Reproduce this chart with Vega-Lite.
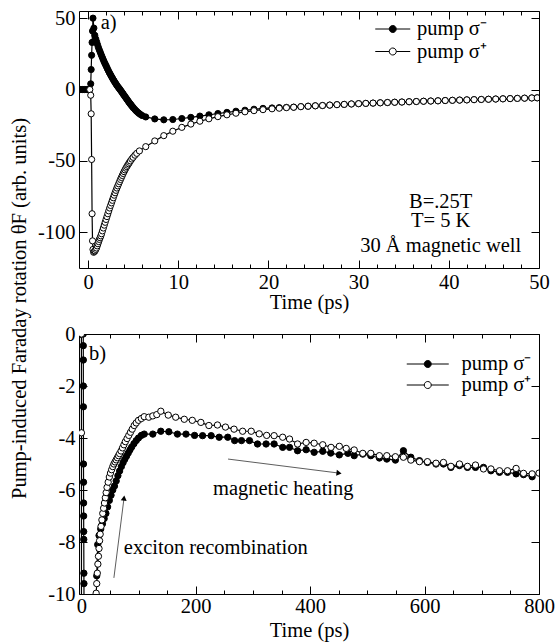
{
  "$schema": "https://vega.github.io/schema/vega-lite/v6.json",
  "background": "white",
  "padding": {"left": 8, "top": 7, "right": 0, "bottom": 0},
  "config": {
    "font": "Liberation Serif",
    "view": {"stroke": "black", "strokeWidth": 1},
    "axis": {
      "grid": false, "domain": false,
      "labelFont": "Liberation Serif", "labelFontSize": 20.5, "labelColor": "black",
      "titleFont": "Liberation Serif", "titleFontSize": 20.5, "titleFontWeight": "normal", "titleColor": "black",
      "tickColor": "black", "tickWidth": 1, "labelOverlap": false, "labelFlush": false
    },
    "text": {"font": "Liberation Serif", "fontSize": 20.5, "color": "black"}
  },
  "datasets": {
    "top": [
      {"series": "pump σ⁻", "t": -1, "v": 0}, {"series": "pump σ⁻", "t": -0.8, "v": 0}, {"series": "pump σ⁻", "t": -0.6, "v": 0},
      {"series": "pump σ⁻", "t": -0.4, "v": 0}, {"series": "pump σ⁻", "t": -0.2, "v": 0}, {"series": "pump σ⁻", "t": 0, "v": 0},
      {"series": "pump σ⁻", "t": 0.15, "v": 0}, {"series": "pump σ⁻", "t": 0.3, "v": 4}, {"series": "pump σ⁻", "t": 0.35, "v": 14},
      {"series": "pump σ⁻", "t": 0.4, "v": 24}, {"series": "pump σ⁻", "t": 0.45, "v": 33}, {"series": "pump σ⁻", "t": 0.5, "v": 41},
      {"series": "pump σ⁻", "t": 0.55, "v": 50}, {"series": "pump σ⁻", "t": 0.65, "v": 43}, {"series": "pump σ⁻", "t": 0.75, "v": 38},
      {"series": "pump σ⁻", "t": 0.85, "v": 35.5}, {"series": "pump σ⁻", "t": 0.95, "v": 33.5}, {"series": "pump σ⁻", "t": 1.05, "v": 31.5},
      {"series": "pump σ⁻", "t": 1.15, "v": 29.5}, {"series": "pump σ⁻", "t": 1.25, "v": 27.8}, {"series": "pump σ⁻", "t": 1.35, "v": 26.2},
      {"series": "pump σ⁻", "t": 1.45, "v": 24.6}, {"series": "pump σ⁻", "t": 1.55, "v": 23}, {"series": "pump σ⁻", "t": 1.65, "v": 21.5},
      {"series": "pump σ⁻", "t": 1.75, "v": 20}, {"series": "pump σ⁻", "t": 1.85, "v": 18.6}, {"series": "pump σ⁻", "t": 1.95, "v": 17.3},
      {"series": "pump σ⁻", "t": 2.05, "v": 16}, {"series": "pump σ⁻", "t": 2.15, "v": 14.6}, {"series": "pump σ⁻", "t": 2.25, "v": 13.3},
      {"series": "pump σ⁻", "t": 2.35, "v": 12}, {"series": "pump σ⁻", "t": 2.45, "v": 10.9}, {"series": "pump σ⁻", "t": 2.55, "v": 9.7},
      {"series": "pump σ⁻", "t": 2.65, "v": 8.6}, {"series": "pump σ⁻", "t": 2.75, "v": 7.5}, {"series": "pump σ⁻", "t": 2.85, "v": 6.4},
      {"series": "pump σ⁻", "t": 2.95, "v": 5.4}, {"series": "pump σ⁻", "t": 3.05, "v": 4.4}, {"series": "pump σ⁻", "t": 3.15, "v": 3.4},
      {"series": "pump σ⁻", "t": 3.25, "v": 2.5}, {"series": "pump σ⁻", "t": 3.35, "v": 1.6}, {"series": "pump σ⁻", "t": 3.45, "v": 0.8},
      {"series": "pump σ⁻", "t": 3.55, "v": 0}, {"series": "pump σ⁻", "t": 3.65, "v": -0.9}, {"series": "pump σ⁻", "t": 3.75, "v": -1.8},
      {"series": "pump σ⁻", "t": 3.85, "v": -2.7}, {"series": "pump σ⁻", "t": 3.95, "v": -3.6}, {"series": "pump σ⁻", "t": 4.05, "v": -4.5},
      {"series": "pump σ⁻", "t": 4.15, "v": -5.4}, {"series": "pump σ⁻", "t": 4.25, "v": -6.3}, {"series": "pump σ⁻", "t": 4.35, "v": -7.2},
      {"series": "pump σ⁻", "t": 4.45, "v": -8.1}, {"series": "pump σ⁻", "t": 4.55, "v": -9}, {"series": "pump σ⁻", "t": 4.65, "v": -9.8},
      {"series": "pump σ⁻", "t": 4.75, "v": -10.6}, {"series": "pump σ⁻", "t": 4.85, "v": -11.4}, {"series": "pump σ⁻", "t": 4.95, "v": -12.2},
      {"series": "pump σ⁻", "t": 5.05, "v": -13}, {"series": "pump σ⁻", "t": 5.2, "v": -14}, {"series": "pump σ⁻", "t": 5.35, "v": -15},
      {"series": "pump σ⁻", "t": 5.5, "v": -15.9}, {"series": "pump σ⁻", "t": 5.65, "v": -16.7}, {"series": "pump σ⁻", "t": 5.8, "v": -17.4},
      {"series": "pump σ⁻", "t": 6.0, "v": -18.2}, {"series": "pump σ⁻", "t": 6.4, "v": -19.2}, {"series": "pump σ⁻", "t": 7.4, "v": -20.6},
      {"series": "pump σ⁻", "t": 8.4, "v": -21.2}, {"series": "pump σ⁻", "t": 9.4, "v": -21.0}, {"series": "pump σ⁻", "t": 10.4, "v": -20.3},
      {"series": "pump σ⁻", "t": 11.4, "v": -19.5}, {"series": "pump σ⁻", "t": 12.4, "v": -18.6}, {"series": "pump σ⁻", "t": 13.4, "v": -17.7},
      {"series": "pump σ⁻", "t": 14.4, "v": -16.8}, {"series": "pump σ⁻", "t": 15.4, "v": -16.0}, {"series": "pump σ⁻", "t": 16.4, "v": -15.2},
      {"series": "pump σ⁻", "t": 17.4, "v": -14.5}, {"series": "pump σ⁻", "t": 18.4, "v": -13.8}, {"series": "pump σ⁻", "t": 19.4, "v": -13.2},
      {"series": "pump σ⁻", "t": 20.4, "v": -12.9}, {"series": "pump σ⁻", "t": 21.2, "v": -12.7}, {"series": "pump σ⁻", "t": 22.0, "v": -12.5},
      {"series": "pump σ⁻", "t": 22.8, "v": -12.35}, {"series": "pump σ⁻", "t": 23.6, "v": -12.0}, {"series": "pump σ⁻", "t": 24.4, "v": -11.7},
      {"series": "pump σ⁻", "t": 25.2, "v": -11.4}, {"series": "pump σ⁻", "t": 26.0, "v": -11.2}, {"series": "pump σ⁻", "t": 26.8, "v": -10.9},
      {"series": "pump σ⁻", "t": 27.6, "v": -10.6}, {"series": "pump σ⁻", "t": 28.4, "v": -10.4}, {"series": "pump σ⁻", "t": 29.2, "v": -10.1},
      {"series": "pump σ⁻", "t": 30.0, "v": -9.9}, {"series": "pump σ⁻", "t": 30.8, "v": -9.7}, {"series": "pump σ⁻", "t": 31.6, "v": -9.5},
      {"series": "pump σ⁻", "t": 32.4, "v": -9.3}, {"series": "pump σ⁻", "t": 33.2, "v": -9.1}, {"series": "pump σ⁻", "t": 34.0, "v": -8.9},
      {"series": "pump σ⁻", "t": 34.8, "v": -8.75}, {"series": "pump σ⁻", "t": 35.6, "v": -8.55}, {"series": "pump σ⁻", "t": 36.4, "v": -8.4},
      {"series": "pump σ⁻", "t": 37.2, "v": -8.2}, {"series": "pump σ⁻", "t": 38.0, "v": -8.05}, {"series": "pump σ⁻", "t": 38.8, "v": -7.9},
      {"series": "pump σ⁻", "t": 39.6, "v": -7.7}, {"series": "pump σ⁻", "t": 40.4, "v": -7.55}, {"series": "pump σ⁻", "t": 41.2, "v": -7.4},
      {"series": "pump σ⁻", "t": 42.0, "v": -7.25}, {"series": "pump σ⁻", "t": 42.8, "v": -7.1}, {"series": "pump σ⁻", "t": 43.6, "v": -6.95},
      {"series": "pump σ⁻", "t": 44.4, "v": -6.8}, {"series": "pump σ⁻", "t": 45.2, "v": -6.65}, {"series": "pump σ⁻", "t": 46.0, "v": -6.5},
      {"series": "pump σ⁻", "t": 46.8, "v": -6.35}, {"series": "pump σ⁻", "t": 47.6, "v": -6.2}, {"series": "pump σ⁻", "t": 48.4, "v": -6.05},
      {"series": "pump σ⁻", "t": 49.2, "v": -5.9}, {"series": "pump σ⁻", "t": 49.8, "v": -5.8},

      {"series": "pump σ⁺", "t": 0.2, "v": 0}, {"series": "pump σ⁺", "t": 0.3, "v": -4}, {"series": "pump σ⁺", "t": 0.35, "v": -17},
      {"series": "pump σ⁺", "t": 0.4, "v": -49}, {"series": "pump σ⁺", "t": 0.45, "v": -87}, {"series": "pump σ⁺", "t": 0.5, "v": -106},
      {"series": "pump σ⁺", "t": 0.55, "v": -112}, {"series": "pump σ⁺", "t": 0.62, "v": -114}, {"series": "pump σ⁺", "t": 0.7, "v": -113.5},
      {"series": "pump σ⁺", "t": 0.78, "v": -113}, {"series": "pump σ⁺", "t": 0.86, "v": -112}, {"series": "pump σ⁺", "t": 0.94, "v": -111},
      {"series": "pump σ⁺", "t": 1.02, "v": -109.5}, {"series": "pump σ⁺", "t": 1.1, "v": -108}, {"series": "pump σ⁺", "t": 1.18, "v": -106.5},
      {"series": "pump σ⁺", "t": 1.26, "v": -105}, {"series": "pump σ⁺", "t": 1.34, "v": -103.8}, {"series": "pump σ⁺", "t": 1.42, "v": -102.5},
      {"series": "pump σ⁺", "t": 1.5, "v": -101}, {"series": "pump σ⁺", "t": 1.6, "v": -99}, {"series": "pump σ⁺", "t": 1.7, "v": -97},
      {"series": "pump σ⁺", "t": 1.8, "v": -95}, {"series": "pump σ⁺", "t": 1.9, "v": -93}, {"series": "pump σ⁺", "t": 2.0, "v": -91},
      {"series": "pump σ⁺", "t": 2.1, "v": -89}, {"series": "pump σ⁺", "t": 2.2, "v": -87}, {"series": "pump σ⁺", "t": 2.3, "v": -85},
      {"series": "pump σ⁺", "t": 2.4, "v": -83}, {"series": "pump σ⁺", "t": 2.5, "v": -81.2}, {"series": "pump σ⁺", "t": 2.6, "v": -79.4},
      {"series": "pump σ⁺", "t": 2.7, "v": -77.6}, {"series": "pump σ⁺", "t": 2.8, "v": -75.8}, {"series": "pump σ⁺", "t": 2.9, "v": -74},
      {"series": "pump σ⁺", "t": 3.0, "v": -72.3}, {"series": "pump σ⁺", "t": 3.1, "v": -70.6}, {"series": "pump σ⁺", "t": 3.2, "v": -69},
      {"series": "pump σ⁺", "t": 3.3, "v": -67.5}, {"series": "pump σ⁺", "t": 3.4, "v": -66}, {"series": "pump σ⁺", "t": 3.5, "v": -64.5},
      {"series": "pump σ⁺", "t": 3.6, "v": -63}, {"series": "pump σ⁺", "t": 3.7, "v": -61.6}, {"series": "pump σ⁺", "t": 3.8, "v": -60.2},
      {"series": "pump σ⁺", "t": 3.9, "v": -58.8}, {"series": "pump σ⁺", "t": 4.0, "v": -57.5}, {"series": "pump σ⁺", "t": 4.1, "v": -56.3},
      {"series": "pump σ⁺", "t": 4.2, "v": -55.1}, {"series": "pump σ⁺", "t": 4.3, "v": -54}, {"series": "pump σ⁺", "t": 4.4, "v": -53},
      {"series": "pump σ⁺", "t": 4.5, "v": -52}, {"series": "pump σ⁺", "t": 4.6, "v": -51}, {"series": "pump σ⁺", "t": 4.7, "v": -50},
      {"series": "pump σ⁺", "t": 4.85, "v": -48.7}, {"series": "pump σ⁺", "t": 5.0, "v": -47.5}, {"series": "pump σ⁺", "t": 5.2, "v": -46},
      {"series": "pump σ⁺", "t": 5.4, "v": -44.7}, {"series": "pump σ⁺", "t": 5.7, "v": -43}, {"series": "pump σ⁺", "t": 6.4, "v": -40},
      {"series": "pump σ⁺", "t": 7.4, "v": -36}, {"series": "pump σ⁺", "t": 8.4, "v": -32.3}, {"series": "pump σ⁺", "t": 9.4, "v": -29.2},
      {"series": "pump σ⁺", "t": 10.4, "v": -26.5}, {"series": "pump σ⁺", "t": 11.4, "v": -24.2}, {"series": "pump σ⁺", "t": 12.4, "v": -22.2},
      {"series": "pump σ⁺", "t": 13.4, "v": -20.5}, {"series": "pump σ⁺", "t": 14.4, "v": -19}, {"series": "pump σ⁺", "t": 15.4, "v": -17.7},
      {"series": "pump σ⁺", "t": 16.4, "v": -16.6}, {"series": "pump σ⁺", "t": 17.4, "v": -15.6}, {"series": "pump σ⁺", "t": 18.4, "v": -14.8},
      {"series": "pump σ⁺", "t": 19.4, "v": -14.1}, {"series": "pump σ⁺", "t": 20.4, "v": -13.5}, {"series": "pump σ⁺", "t": 21.2, "v": -13.1},
      {"series": "pump σ⁺", "t": 22.0, "v": -12.7}, {"series": "pump σ⁺", "t": 22.8, "v": -12.4}, {"series": "pump σ⁺", "t": 23.6, "v": -12.0},
      {"series": "pump σ⁺", "t": 24.4, "v": -11.7}, {"series": "pump σ⁺", "t": 25.2, "v": -11.4}, {"series": "pump σ⁺", "t": 26.0, "v": -11.2},
      {"series": "pump σ⁺", "t": 26.8, "v": -10.9}, {"series": "pump σ⁺", "t": 27.6, "v": -10.6}, {"series": "pump σ⁺", "t": 28.4, "v": -10.4},
      {"series": "pump σ⁺", "t": 29.2, "v": -10.1}, {"series": "pump σ⁺", "t": 30.0, "v": -9.9}, {"series": "pump σ⁺", "t": 30.8, "v": -9.7},
      {"series": "pump σ⁺", "t": 31.6, "v": -9.5}, {"series": "pump σ⁺", "t": 32.4, "v": -9.3}, {"series": "pump σ⁺", "t": 33.2, "v": -9.1},
      {"series": "pump σ⁺", "t": 34.0, "v": -8.9}, {"series": "pump σ⁺", "t": 34.8, "v": -8.75}, {"series": "pump σ⁺", "t": 35.6, "v": -8.55},
      {"series": "pump σ⁺", "t": 36.4, "v": -8.4}, {"series": "pump σ⁺", "t": 37.2, "v": -8.2}, {"series": "pump σ⁺", "t": 38.0, "v": -8.05},
      {"series": "pump σ⁺", "t": 38.8, "v": -7.9}, {"series": "pump σ⁺", "t": 39.6, "v": -7.7}, {"series": "pump σ⁺", "t": 40.4, "v": -7.55},
      {"series": "pump σ⁺", "t": 41.2, "v": -7.4}, {"series": "pump σ⁺", "t": 42.0, "v": -7.25}, {"series": "pump σ⁺", "t": 42.8, "v": -7.1},
      {"series": "pump σ⁺", "t": 43.6, "v": -6.95}, {"series": "pump σ⁺", "t": 44.4, "v": -6.8}, {"series": "pump σ⁺", "t": 45.2, "v": -6.65},
      {"series": "pump σ⁺", "t": 46.0, "v": -6.5}, {"series": "pump σ⁺", "t": 46.8, "v": -6.35}, {"series": "pump σ⁺", "t": 47.6, "v": -6.2},
      {"series": "pump σ⁺", "t": 48.4, "v": -6.05}, {"series": "pump σ⁺", "t": 49.2, "v": -5.9}, {"series": "pump σ⁺", "t": 49.8, "v": -5.8}
    ],
    "bottom": [
      {"series": "pump σ⁻", "trace": "m1", "t": -3, "v": 0}, {"series": "pump σ⁻", "trace": "m1", "t": -1.5, "v": 0},
      {"series": "pump σ⁻", "trace": "m1", "t": 0, "v": 0}, {"series": "pump σ⁻", "trace": "m1", "t": 3.4, "v": 0},
      {"series": "pump σ⁻", "trace": "m1", "t": 3.5, "v": -0.45}, {"series": "pump σ⁻", "trace": "m1", "t": 3.55, "v": -1.0},
      {"series": "pump σ⁻", "trace": "m1", "t": 3.6, "v": -2.0}, {"series": "pump σ⁻", "trace": "m1", "t": 3.7, "v": -2.8},
      {"series": "pump σ⁻", "trace": "m1", "t": 3.85, "v": -5.0}, {"series": "pump σ⁻", "trace": "m1", "t": 3.95, "v": -5.7},
      {"series": "pump σ⁻", "trace": "m1", "t": 4.05, "v": -6.5}, {"series": "pump σ⁻", "trace": "m1", "t": 4.15, "v": -7.0},
      {"series": "pump σ⁻", "trace": "m1", "t": 4.25, "v": -7.6}, {"series": "pump σ⁻", "trace": "m1", "t": 4.35, "v": -7.9},
      {"series": "pump σ⁻", "trace": "m1", "t": 4.55, "v": -9.2}, {"series": "pump σ⁻", "trace": "m1", "t": 4.65, "v": -9.6},
      {"series": "pump σ⁻", "trace": "m1", "t": 4.75, "v": -10.6},

      {"series": "pump σ⁻", "trace": "m2", "t": 27, "v": -9.3}, {"series": "pump σ⁻", "trace": "m2", "t": 28.7, "v": -8.1},
      {"series": "pump σ⁻", "trace": "m2", "t": 31, "v": -7.75}, {"series": "pump σ⁻", "trace": "m2", "t": 34, "v": -7.5},
      {"series": "pump σ⁻", "trace": "m2", "t": 37, "v": -7.3}, {"series": "pump σ⁻", "trace": "m2", "t": 40, "v": -7.1},
      {"series": "pump σ⁻", "trace": "m2", "t": 43, "v": -6.9}, {"series": "pump σ⁻", "trace": "m2", "t": 46, "v": -6.65},
      {"series": "pump σ⁻", "trace": "m2", "t": 49, "v": -6.4}, {"series": "pump σ⁻", "trace": "m2", "t": 52, "v": -6.2},
      {"series": "pump σ⁻", "trace": "m2", "t": 55, "v": -6.0}, {"series": "pump σ⁻", "trace": "m2", "t": 58, "v": -5.85},
      {"series": "pump σ⁻", "trace": "m2", "t": 61, "v": -5.65}, {"series": "pump σ⁻", "trace": "m2", "t": 64, "v": -5.45},
      {"series": "pump σ⁻", "trace": "m2", "t": 67, "v": -5.27}, {"series": "pump σ⁻", "trace": "m2", "t": 70, "v": -5.1},
      {"series": "pump σ⁻", "trace": "m2", "t": 73, "v": -4.95}, {"series": "pump σ⁻", "trace": "m2", "t": 76, "v": -4.82},
      {"series": "pump σ⁻", "trace": "m2", "t": 79, "v": -4.7}, {"series": "pump σ⁻", "trace": "m2", "t": 82, "v": -4.58},
      {"series": "pump σ⁻", "trace": "m2", "t": 85, "v": -4.46}, {"series": "pump σ⁻", "trace": "m2", "t": 88, "v": -4.35},
      {"series": "pump σ⁻", "trace": "m2", "t": 92, "v": -4.22}, {"series": "pump σ⁻", "trace": "m2", "t": 96, "v": -4.1},
      {"series": "pump σ⁻", "trace": "m2", "t": 100, "v": -4.0}, {"series": "pump σ⁻", "trace": "m2", "t": 105, "v": -3.9},
      {"series": "pump σ⁻", "trace": "m2", "t": 110, "v": -3.85}, {"series": "pump σ⁻", "trace": "m2", "t": 125, "v": -3.85},
      {"series": "pump σ⁻", "trace": "m2", "t": 139, "v": -3.74}, {"series": "pump σ⁻", "trace": "m2", "t": 153, "v": -3.76},
      {"series": "pump σ⁻", "trace": "m2", "t": 168, "v": -3.85}, {"series": "pump σ⁻", "trace": "m2", "t": 183, "v": -3.85},
      {"series": "pump σ⁻", "trace": "m2", "t": 198, "v": -3.9}, {"series": "pump σ⁻", "trace": "m2", "t": 212, "v": -3.91},
      {"series": "pump σ⁻", "trace": "m2", "t": 227, "v": -3.91}, {"series": "pump σ⁻", "trace": "m2", "t": 241, "v": -3.97},
      {"series": "pump σ⁻", "trace": "m2", "t": 256, "v": -3.97}, {"series": "pump σ⁻", "trace": "m2", "t": 268, "v": -4.1},
      {"series": "pump σ⁻", "trace": "m2", "t": 280, "v": -4.1}, {"series": "pump σ⁻", "trace": "m2", "t": 294, "v": -4.1},
      {"series": "pump σ⁻", "trace": "m2", "t": 308, "v": -4.23}, {"series": "pump σ⁻", "trace": "m2", "t": 323, "v": -4.23},
      {"series": "pump σ⁻", "trace": "m2", "t": 337, "v": -4.23}, {"series": "pump σ⁻", "trace": "m2", "t": 352, "v": -4.36},
      {"series": "pump σ⁻", "trace": "m2", "t": 364, "v": -4.36}, {"series": "pump σ⁻", "trace": "m2", "t": 378, "v": -4.49},
      {"series": "pump σ⁻", "trace": "m2", "t": 393, "v": -4.45}, {"series": "pump σ⁻", "trace": "m2", "t": 407, "v": -4.55},
      {"series": "pump σ⁻", "trace": "m2", "t": 422, "v": -4.51}, {"series": "pump σ⁻", "trace": "m2", "t": 436, "v": -4.58},
      {"series": "pump σ⁻", "trace": "m2", "t": 451, "v": -4.65}, {"series": "pump σ⁻", "trace": "m2", "t": 466, "v": -4.59},
      {"series": "pump σ⁻", "trace": "m2", "t": 477, "v": -4.68}, {"series": "pump σ⁻", "trace": "m2", "t": 492, "v": -4.62},
      {"series": "pump σ⁻", "trace": "m2", "t": 506, "v": -4.68}, {"series": "pump σ⁻", "trace": "m2", "t": 521, "v": -4.77},
      {"series": "pump σ⁻", "trace": "m2", "t": 534, "v": -4.81}, {"series": "pump σ⁻", "trace": "m2", "t": 549, "v": -4.85},
      {"series": "pump σ⁻", "trace": "m2", "t": 563, "v": -4.49}, {"series": "pump σ⁻", "trace": "m2", "t": 576, "v": -4.74},
      {"series": "pump σ⁻", "trace": "m2", "t": 591, "v": -4.87}, {"series": "pump σ⁻", "trace": "m2", "t": 605, "v": -4.94},
      {"series": "pump σ⁻", "trace": "m2", "t": 620, "v": -5.0}, {"series": "pump σ⁻", "trace": "m2", "t": 633, "v": -5.0},
      {"series": "pump σ⁻", "trace": "m2", "t": 646, "v": -5.13}, {"series": "pump σ⁻", "trace": "m2", "t": 661, "v": -5.06},
      {"series": "pump σ⁻", "trace": "m2", "t": 675, "v": -5.13}, {"series": "pump σ⁻", "trace": "m2", "t": 689, "v": -5.13},
      {"series": "pump σ⁻", "trace": "m2", "t": 703, "v": -5.13}, {"series": "pump σ⁻", "trace": "m2", "t": 716, "v": -5.26},
      {"series": "pump σ⁻", "trace": "m2", "t": 731, "v": -5.32}, {"series": "pump σ⁻", "trace": "m2", "t": 745, "v": -5.32},
      {"series": "pump σ⁻", "trace": "m2", "t": 760, "v": -5.38}, {"series": "pump σ⁻", "trace": "m2", "t": 773, "v": -5.41},
      {"series": "pump σ⁻", "trace": "m2", "t": 788, "v": -5.49},

      {"series": "pump σ⁺", "trace": "p1", "t": 0.2, "v": 0}, {"series": "pump σ⁺", "trace": "p1", "t": 0.3, "v": -3.8},
      {"series": "pump σ⁺", "trace": "p1", "t": 0.35, "v": -17},

      {"series": "pump σ⁺", "trace": "p2", "t": 26, "v": -9.97}, {"series": "pump σ⁺", "trace": "p2", "t": 27, "v": -9.6},
      {"series": "pump σ⁺", "trace": "p2", "t": 28, "v": -9.2}, {"series": "pump σ⁺", "trace": "p2", "t": 29, "v": -8.85},
      {"series": "pump σ⁺", "trace": "p2", "t": 30, "v": -8.55}, {"series": "pump σ⁺", "trace": "p2", "t": 31, "v": -8.25},
      {"series": "pump σ⁺", "trace": "p2", "t": 32, "v": -7.95}, {"series": "pump σ⁺", "trace": "p2", "t": 33, "v": -7.7},
      {"series": "pump σ⁺", "trace": "p2", "t": 34.5, "v": -7.4}, {"series": "pump σ⁺", "trace": "p2", "t": 36, "v": -7.15},
      {"series": "pump σ⁺", "trace": "p2", "t": 37.5, "v": -6.9}, {"series": "pump σ⁺", "trace": "p2", "t": 39, "v": -6.7},
      {"series": "pump σ⁺", "trace": "p2", "t": 40.5, "v": -6.5}, {"series": "pump σ⁺", "trace": "p2", "t": 42, "v": -6.3},
      {"series": "pump σ⁺", "trace": "p2", "t": 43.5, "v": -6.1}, {"series": "pump σ⁺", "trace": "p2", "t": 45, "v": -5.9},
      {"series": "pump σ⁺", "trace": "p2", "t": 47, "v": -5.7}, {"series": "pump σ⁺", "trace": "p2", "t": 49, "v": -5.5},
      {"series": "pump σ⁺", "trace": "p2", "t": 51, "v": -5.35}, {"series": "pump σ⁺", "trace": "p2", "t": 53, "v": -5.22},
      {"series": "pump σ⁺", "trace": "p2", "t": 55, "v": -5.1}, {"series": "pump σ⁺", "trace": "p2", "t": 57, "v": -5.0},
      {"series": "pump σ⁺", "trace": "p2", "t": 59, "v": -4.92}, {"series": "pump σ⁺", "trace": "p2", "t": 61, "v": -4.84},
      {"series": "pump σ⁺", "trace": "p2", "t": 63, "v": -4.76}, {"series": "pump σ⁺", "trace": "p2", "t": 65, "v": -4.68},
      {"series": "pump σ⁺", "trace": "p2", "t": 67, "v": -4.6}, {"series": "pump σ⁺", "trace": "p2", "t": 69.5, "v": -4.5},
      {"series": "pump σ⁺", "trace": "p2", "t": 72, "v": -4.38}, {"series": "pump σ⁺", "trace": "p2", "t": 74.5, "v": -4.26},
      {"series": "pump σ⁺", "trace": "p2", "t": 77, "v": -4.14}, {"series": "pump σ⁺", "trace": "p2", "t": 80, "v": -4.02},
      {"series": "pump σ⁺", "trace": "p2", "t": 83, "v": -3.9}, {"series": "pump σ⁺", "trace": "p2", "t": 86, "v": -3.78},
      {"series": "pump σ⁺", "trace": "p2", "t": 89, "v": -3.66}, {"series": "pump σ⁺", "trace": "p2", "t": 92.5, "v": -3.52},
      {"series": "pump σ⁺", "trace": "p2", "t": 96, "v": -3.42}, {"series": "pump σ⁺", "trace": "p2", "t": 100, "v": -3.32},
      {"series": "pump σ⁺", "trace": "p2", "t": 105, "v": -3.25}, {"series": "pump σ⁺", "trace": "p2", "t": 110, "v": -3.18},
      {"series": "pump σ⁺", "trace": "p2", "t": 118, "v": -3.2}, {"series": "pump σ⁺", "trace": "p2", "t": 125, "v": -3.15},
      {"series": "pump σ⁺", "trace": "p2", "t": 132, "v": -3.1}, {"series": "pump σ⁺", "trace": "p2", "t": 139, "v": -2.97},
      {"series": "pump σ⁺", "trace": "p2", "t": 152, "v": -3.12}, {"series": "pump σ⁺", "trace": "p2", "t": 165, "v": -3.2},
      {"series": "pump σ⁺", "trace": "p2", "t": 180, "v": -3.28}, {"series": "pump σ⁺", "trace": "p2", "t": 194, "v": -3.32},
      {"series": "pump σ⁺", "trace": "p2", "t": 209, "v": -3.4}, {"series": "pump σ⁺", "trace": "p2", "t": 223, "v": -3.52},
      {"series": "pump σ⁺", "trace": "p2", "t": 238, "v": -3.5}, {"series": "pump σ⁺", "trace": "p2", "t": 252, "v": -3.58},
      {"series": "pump σ⁺", "trace": "p2", "t": 267, "v": -3.66}, {"series": "pump σ⁺", "trace": "p2", "t": 282, "v": -3.74},
      {"series": "pump σ⁺", "trace": "p2", "t": 297, "v": -3.74}, {"series": "pump σ⁺", "trace": "p2", "t": 311, "v": -3.84},
      {"series": "pump σ⁺", "trace": "p2", "t": 324, "v": -3.9}, {"series": "pump σ⁺", "trace": "p2", "t": 337, "v": -3.91},
      {"series": "pump σ⁺", "trace": "p2", "t": 352, "v": -3.97}, {"series": "pump σ⁺", "trace": "p2", "t": 364, "v": -4.04},
      {"series": "pump σ⁺", "trace": "p2", "t": 378, "v": -4.23}, {"series": "pump σ⁺", "trace": "p2", "t": 393, "v": -4.17},
      {"series": "pump σ⁺", "trace": "p2", "t": 407, "v": -4.2}, {"series": "pump σ⁺", "trace": "p2", "t": 422, "v": -4.26},
      {"series": "pump σ⁺", "trace": "p2", "t": 436.5, "v": -4.36}, {"series": "pump σ⁺", "trace": "p2", "t": 451, "v": -4.32},
      {"series": "pump σ⁺", "trace": "p2", "t": 463, "v": -4.4}, {"series": "pump σ⁺", "trace": "p2", "t": 477, "v": -4.46},
      {"series": "pump σ⁺", "trace": "p2", "t": 492, "v": -4.59}, {"series": "pump σ⁺", "trace": "p2", "t": 506, "v": -4.59},
      {"series": "pump σ⁺", "trace": "p2", "t": 521, "v": -4.68}, {"series": "pump σ⁺", "trace": "p2", "t": 534, "v": -4.68},
      {"series": "pump σ⁺", "trace": "p2", "t": 549, "v": -4.72}, {"series": "pump σ⁺", "trace": "p2", "t": 563, "v": -4.74},
      {"series": "pump σ⁺", "trace": "p2", "t": 576, "v": -4.85}, {"series": "pump σ⁺", "trace": "p2", "t": 591, "v": -4.91},
      {"series": "pump σ⁺", "trace": "p2", "t": 605, "v": -4.91}, {"series": "pump σ⁺", "trace": "p2", "t": 620, "v": -4.97},
      {"series": "pump σ⁺", "trace": "p2", "t": 633, "v": -4.94}, {"series": "pump σ⁺", "trace": "p2", "t": 646, "v": -5.09},
      {"series": "pump σ⁺", "trace": "p2", "t": 661, "v": -5.0}, {"series": "pump σ⁺", "trace": "p2", "t": 675, "v": -5.09},
      {"series": "pump σ⁺", "trace": "p2", "t": 689, "v": -5.04}, {"series": "pump σ⁺", "trace": "p2", "t": 703, "v": -5.19},
      {"series": "pump σ⁺", "trace": "p2", "t": 716, "v": -5.19}, {"series": "pump σ⁺", "trace": "p2", "t": 731, "v": -5.26},
      {"series": "pump σ⁺", "trace": "p2", "t": 745, "v": -5.26}, {"series": "pump σ⁺", "trace": "p2", "t": 760, "v": -5.17},
      {"series": "pump σ⁺", "trace": "p2", "t": 773, "v": -5.36}, {"series": "pump σ⁺", "trace": "p2", "t": 788, "v": -5.38},
      {"series": "pump σ⁺", "trace": "p2", "t": 800, "v": -5.35}
    ],
    "topNotes": [
      {"label": "a)", "t": 1.4, "v": 46.5},
      {"label": "B=.25T", "t": 39.1, "v": -78.5},
      {"label": "T= 5 K", "t": 39.1, "v": -92.4},
      {"label": "30 Å magnetic well", "t": 39.1, "v": -109.7}
    ],
    "bottomNotes": [
      {"label": "b)", "t": 13.5, "v": -0.77},
      {"label": "magnetic heating", "t": 353, "v": -5.96},
      {"label": "exciton recombination", "t": 235, "v": -8.23}
    ],
    "arrows": [
      {"name": "heating", "t0": 256.5, "v0": -4.81, "t1": 450.5, "v1": -5.35},
      {"name": "exciton", "t0": 57, "v0": -9.38, "t1": 74.7, "v1": -6.31}
    ]
  },
  "spacing": 66,
  "bounds": "flush",
  "resolve": {"scale": {"fill": "independent"}, "legend": {"fill": "independent"}},
  "vconcat": [
    {
      "width": 460,
      "height": 257,
      "resolve": {"axis": {"x": "independent", "y": "independent"}},
      "layer": [
        {
          "mark": {"type": "rule", "strokeDash": [2, 2], "color": "#777", "strokeWidth": 1},
          "encoding": {"y": {"datum": 0, "type": "quantitative", "axis": null}}
        },
        {
          "data": {"name": "top"},
          "mark": {"type": "line", "color": "black", "strokeWidth": 1.2, "clip": true},
          "encoding": {
            "x": {"field": "t", "type": "quantitative", "scale": {"domain": [-1, 50], "nice": false, "zero": false},
              "axis": {"orient": "top", "labels": false, "title": null,
                "values": [0, 2, 4, 6, 8, 10, 12, 14, 16, 18, 20, 22, 24, 26, 28, 30, 32, 34, 36, 38, 40, 42, 44, 46, 48, 50],
                "tickSize": {"condition": {"test": "datum.value % 10 === 0", "value": -8}, "value": -4}}},
            "y": {"field": "v", "type": "quantitative", "scale": {"domain": [-125, 55], "nice": false, "zero": false},
              "axis": {"orient": "right", "labels": false, "title": null, "values": [-100, -50, 0, 50], "tickSize": -8}},
            "detail": {"field": "series"}
          }
        },
        {
          "data": {"name": "top"},
          "mark": {"type": "point", "filled": true, "stroke": "black", "strokeWidth": 1, "size": 38, "opacity": 1, "clip": true},
          "encoding": {
            "x": {"field": "t", "type": "quantitative",
              "axis": {"orient": "bottom", "title": "Time (ps)", "titlePadding": -4,
                "values": [0, 2, 4, 6, 8, 10, 12, 14, 16, 18, 20, 22, 24, 26, 28, 30, 32, 34, 36, 38, 40, 42, 44, 46, 48, 50],
                "labelExpr": "datum.value % 10 === 0 ? datum.label : ''",
                "tickSize": {"condition": {"test": "datum.value % 10 === 0", "value": -8}, "value": -4},
                "labelPadding": 12}},
            "y": {"field": "v", "type": "quantitative",
              "axis": {"orient": "left", "values": [-100, -50, 0, 50], "tickSize": -8, "labelPadding": 12,
                "labelExpr": "replace(datum.label, '−', '-')",
                "title": "Pump-induced Faraday rotation  θF (arb. units)",
                "titleX": -60, "titleY": 297, "titleAngle": 270, "titleAlign": "center", "titleBaseline": "middle"}},
            "fill": {"field": "series", "type": "nominal",
              "scale": {"domain": ["pump σ⁻", "pump σ⁺"], "range": ["black", "white"]},
              "legend": {"orient": "none", "legendX": 303.5, "legendY": 7.75, "title": null, "padding": 0,
                "symbolType": "M-5,0H-1A1,1,0,1,1,1,0A1,1,0,1,1,-1,0M1,0H5",
                "symbolSize": 49, "symbolStrokeColor": "black", "symbolStrokeWidth": 1,
                "labelFont": "Liberation Serif", "labelFontSize": 20.5, "labelColor": "black",
                "labelOffset": 14, "rowPadding": 1.5}}
          }
        },
        {
          "data": {"name": "topNotes"},
          "transform": [{"filter": "datum.label === 'a)'"}],
          "mark": {"type": "text", "align": "left", "baseline": "middle"},
          "encoding": {
            "x": {"field": "t", "type": "quantitative", "axis": null},
            "y": {"field": "v", "type": "quantitative", "axis": null},
            "text": {"field": "label"}
          }
        },
        {
          "data": {"name": "topNotes"},
          "transform": [{"filter": "datum.label !== 'a)'"}],
          "mark": {"type": "text", "align": "center", "baseline": "middle"},
          "encoding": {
            "x": {"field": "t", "type": "quantitative", "axis": null},
            "y": {"field": "v", "type": "quantitative", "axis": null},
            "text": {"field": "label"}
          }
        }
      ]
    },
    {
      "width": 460,
      "height": 260,
      "resolve": {"axis": {"x": "independent", "y": "independent"}},
      "layer": [
        {
          "data": {"name": "bottom"},
          "mark": {"type": "line", "color": "black", "strokeWidth": 1.2, "clip": true},
          "encoding": {
            "x": {"field": "t", "type": "quantitative", "scale": {"domain": [-4, 800], "nice": false, "zero": false},
              "axis": {"orient": "top", "labels": false, "title": null,
                "values": [0, 50, 100, 150, 200, 250, 300, 350, 400, 450, 500, 550, 600, 650, 700, 750, 800],
                "tickSize": {"condition": {"test": "datum.value % 200 === 0", "value": -8}, "value": -4}}},
            "y": {"field": "v", "type": "quantitative", "scale": {"domain": [-10, 0], "nice": false, "zero": false},
              "axis": {"orient": "right", "labels": false, "title": null, "values": [-10, -8, -6, -4, -2, 0], "tickSize": -8}},
            "detail": {"field": "trace"}
          }
        },
        {
          "data": {"name": "bottom"},
          "mark": {"type": "point", "filled": true, "stroke": "black", "strokeWidth": 1, "size": 40, "opacity": 1, "clip": true},
          "encoding": {
            "x": {"field": "t", "type": "quantitative",
              "axis": {"orient": "bottom", "title": "Time (ps)", "titlePadding": 0,
                "values": [0, 50, 100, 150, 200, 250, 300, 350, 400, 450, 500, 550, 600, 650, 700, 750, 800],
                "labelExpr": "datum.value % 200 === 0 ? datum.label : ''",
                "tickSize": {"condition": {"test": "datum.value % 200 === 0", "value": -8}, "value": -4},
                "labelPadding": 10}},
            "y": {"field": "v", "type": "quantitative",
              "axis": {"orient": "left", "values": [-10, -8, -6, -4, -2, 0], "tickSize": -8, "labelPadding": 12,
                "labelExpr": "replace(datum.label, '−', '-')", "title": null}},
            "fill": {"field": "series", "type": "nominal",
              "scale": {"domain": ["pump σ⁻", "pump σ⁺"], "range": ["black", "white"]},
              "legend": {"orient": "none", "legendX": 338.5, "legendY": 19.75, "title": null, "padding": 0,
                "symbolType": "M-6,0H-1A1,1,0,1,1,1,0A1,1,0,1,1,-1,0M1,0H6",
                "symbolSize": 49, "symbolStrokeColor": "black", "symbolStrokeWidth": 1,
                "labelFont": "Liberation Serif", "labelFontSize": 20.5, "labelColor": "black",
                "labelOffset": 23.5, "rowPadding": 0}}
          }
        },
        {
          "data": {"name": "arrows"},
          "mark": {"type": "rule", "color": "#333", "strokeWidth": 0.8},
          "encoding": {
            "x": {"field": "t0", "type": "quantitative", "axis": null},
            "y": {"field": "v0", "type": "quantitative", "axis": null},
            "x2": {"field": "t1"},
            "y2": {"field": "v1"}
          }
        },
        {
          "data": {"name": "arrows"},
          "transform": [{"filter": "datum.name === 'heating'"}],
          "mark": {"type": "point", "shape": "triangle-right", "angle": 7, "filled": true, "color": "black", "size": 35, "opacity": 1},
          "encoding": {
            "x": {"field": "t1", "type": "quantitative", "axis": null},
            "y": {"field": "v1", "type": "quantitative", "axis": null}
          }
        },
        {
          "data": {"name": "arrows"},
          "transform": [{"filter": "datum.name === 'exciton'"}],
          "mark": {"type": "point", "shape": "triangle-up", "angle": 7, "filled": true, "color": "black", "size": 35, "opacity": 1},
          "encoding": {
            "x": {"field": "t1", "type": "quantitative", "axis": null},
            "y": {"field": "v1", "type": "quantitative", "axis": null}
          }
        },
        {
          "data": {"name": "bottomNotes"},
          "transform": [{"filter": "datum.label === 'b)'"}],
          "mark": {"type": "text", "align": "left", "baseline": "middle"},
          "encoding": {
            "x": {"field": "t", "type": "quantitative", "axis": null},
            "y": {"field": "v", "type": "quantitative", "axis": null},
            "text": {"field": "label"}
          }
        },
        {
          "data": {"name": "bottomNotes"},
          "transform": [{"filter": "datum.label !== 'b)'"}],
          "mark": {"type": "text", "align": "center", "baseline": "middle"},
          "encoding": {
            "x": {"field": "t", "type": "quantitative", "axis": null},
            "y": {"field": "v", "type": "quantitative", "axis": null},
            "text": {"field": "label"}
          }
        }
      ]
    }
  ]
}
